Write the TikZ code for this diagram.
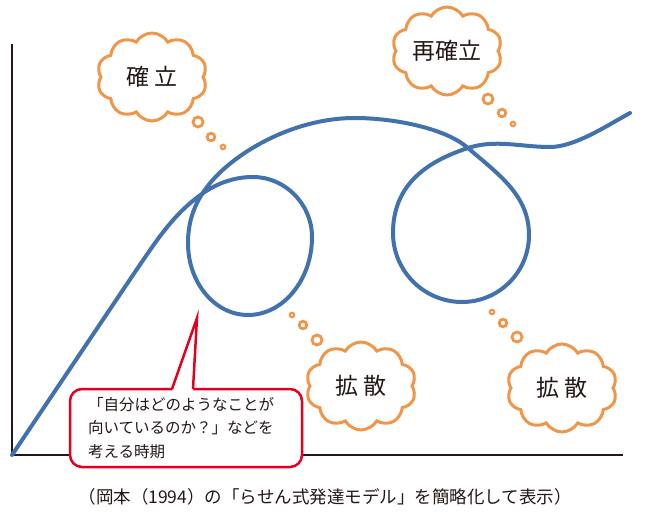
\documentclass[tikz,border=0pt]{standalone}
\usepackage{fontspec}
\setmainfont{Noto Sans CJK JP}
\usetikzlibrary{shapes.symbols,positioning,calc}
\definecolor{spiralblue}{RGB}{66,114,174}
\definecolor{cloudorange}{RGB}{240,150,75}
\definecolor{calloutred}{RGB}{228,0,30}
\definecolor{inkgray}{RGB}{35,24,21}

\begin{document}
\begin{tikzpicture}[x=1pt, y=-1pt,
    spiral/.style={spiralblue, line width=4pt, line cap=round, line join=round},
    thought/.style={cloud, cloud puffs=10, cloud puff arc=120, cloud ignores aspect,
        draw=cloudorange, line width=3pt, fill=white, text=inkgray,
        minimum width=110pt, minimum height=88pt, inner sep=0pt,
        font=\fontsize{23}{27}\selectfont},
    bubble/.style={draw=cloudorange, line width=2.8pt},
    callout/.style={draw=calloutred, line width=2.5pt, rounded corners=12pt, fill=white,
        text=inkgray, minimum width=232pt, minimum height=78pt, text width=196pt,
        inner xsep=18pt, outer sep=0pt, align=left,
        font=\fontsize{15.5}{23.5}\selectfont}]
    \useasboundingbox (0,0) rectangle (650,516);

    % axes
    \coordinate (origin) at (12,455);
    \draw[inkgray, line width=1.5pt] (12,44) -- (origin) -- (623,455);

    % spiral development curve
    \draw[spiral] (origin) -- (135,272) .. controls (155,243) and (171,217) .. (199,196)
        .. controls (215,184) and (233,177) .. (253,177)
        .. controls (285,177) and (312,204) .. (312,237)
        .. controls (312,280) and (283,315) .. (248,315)
        .. controls (215,315) and (188,283) .. (188,243)
        .. controls (188,222) and (194,204) .. (207,187)
        .. controls (230,156) and (290,118) .. (355,118)
        .. controls (390,118) and (444,127) .. (468,148)
        .. controls (498,174) and (529,195) .. (529,235)
        .. controls (529,272) and (499,302) .. (462,302)
        .. controls (424,302) and (393,271) .. (393,233)
        .. controls (393,186) and (425,162) .. (468,148)
        .. controls (496,139) and (520,147) .. (550,147)
        .. controls (575,147) and (608,125) .. (630,113);

    % thought clouds
    \node[thought] (kakuritsu) at (152,77) {確\hspace{0.25em}立};
    \node[thought] (saikakuritsu) at (447,51) {再確立};
    \node[thought] (kakusan1) at (361,386) {拡\hspace{0.25em}散};
    \node[thought] (kakusan2) at (562,388) {拡\hspace{0.25em}散};

    \foreach \x/\y/\r/\w in {198/122/5/2.8, 211/137/3.8/2.8, 223/147/2.2/2.2,
                             488/99/5/2.8, 502/113/3.8/2.8, 513/124/2.2/2.2,
                             317/340/5/2.8, 303/325/3.8/2.8, 292/315/2.2/2.2,
                             517/337/5/2.8, 503/323/3.8/2.8, 492/312/2.2/2.2}
        \draw[bubble, line width=\w pt] (\x,\y) circle (\r pt);

    % callout
    \node[callout] (jiki) at (186,428) {「自分はどのようなことが\\向いているのか？」などを\\考える時期};
    \coordinate (sentan) at (197,318);
    \fill[white] ($(jiki.north west)+(102,2)$) -- (sentan) -- ($(jiki.north west)+(123,2)$) -- cycle;
    \draw[calloutred, line width=2.5pt, line join=miter]
        ($(jiki.north west)+(102,0)$) -- (sentan) -- ($(jiki.north west)+(123,0)$);

    % source
    \node[text=inkgray, font=\fontsize{17.5}{19}\selectfont] (shutten) at (325,497)
        {（岡本（1994）の「らせん式発達モデル」を簡略化して表示）};
\end{tikzpicture}
\end{document}
